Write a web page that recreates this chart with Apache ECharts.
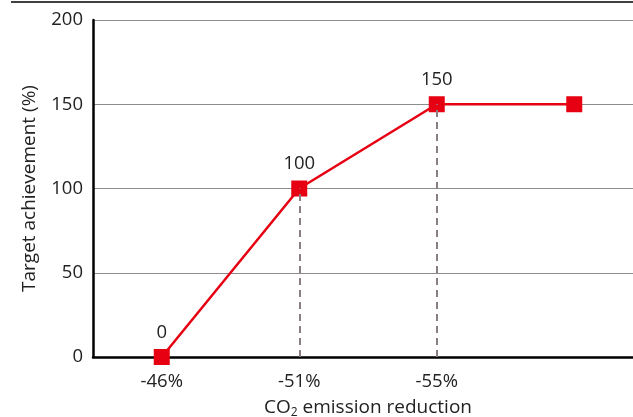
<!DOCTYPE html>
<html>
<head>
<meta charset="utf-8">
<script src="https://cdn.jsdelivr.net/npm/echarts@6/dist/echarts.min.js"></script>
<style>html,body{margin:0;padding:0;background:#fff;}#c{width:633px;height:417px;}</style>
</head>
<body>
<div id="c"></div>
<script>
const categories = ['-46%', '-51%', '-55%', ''];
const achievement = [0, 100, 150, 150];
const pointLabels = ['0', '100', '150', ''];
const dropLineIndexes = [1, 2];
const yTicks = [0, 50, 100, 150, 200];

const chart = echarts.init(document.getElementById('c'));
const font = '"Open Sans", "Noto Sans", sans-serif';
const red = '#e60012';

chart.setOption({
  animation: false,
  grid: { left: 93, right: -10, top: 20, bottom: 60, containLabel: false, outerBoundsMode: 'none' },
  graphic: [{
    type: 'line', shape: { x1: 11, y1: 2, x2: 633, y2: 2 },
    style: { stroke: '#000', lineWidth: 1.5 }
  }],
  xAxis: {
    type: 'category', data: categories, boundaryGap: true,
    axisLine: { lineStyle: { color: '#000', width: 2.5 } },
    axisTick: { show: false },
    axisLabel: { color: '#222', fontSize: 18.5, fontFamily: font, margin: 15 },
    name: 'CO{sub|2} emission reduction', nameLocation: 'middle', nameGap: 40,
    nameTextStyle: {
      color: '#222', fontSize: 19, fontFamily: font,
      rich: { sub: { fontSize: 12, fontFamily: font, color: '#222', verticalAlign: 'bottom', padding: [10, 0, 0, 0] } }
    }
  },
  yAxis: {
    type: 'value', min: 0, max: 200, interval: 50,
    axisLine: { show: true, lineStyle: { color: '#000', width: 2.5 } },
    axisTick: { show: false },
    splitLine: { lineStyle: { color: '#8c8c8c', width: 1.2 } },
    axisLabel: { color: '#222', fontSize: 18.5, fontFamily: font, margin: 10 },
    name: 'Target achievement (%)', nameLocation: 'middle', nameGap: 54,
    nameTextStyle: { color: '#222', fontSize: 19, fontFamily: font }
  },
  series: [{
    type: 'line', data: achievement,
    symbol: 'rect', symbolSize: 16,
    itemStyle: { color: red },
    lineStyle: { color: red, width: 2.5 },
    label: {
      show: true, position: 'top', distance: 7, fontSize: 18.5, fontFamily: font, color: '#222',
      formatter: p => pointLabels[p.dataIndex]
    },
    markLine: {
      symbol: 'none', silent: true, label: { show: false },
      lineStyle: { color: '#8a7f80', type: [7, 5], width: 2 },
      data: dropLineIndexes.map(i => [
        { coord: [i, 0] }, { coord: [i, achievement[i]] }
      ])
    },
    z: 3
  }]
});
</script>
</body>
</html>
